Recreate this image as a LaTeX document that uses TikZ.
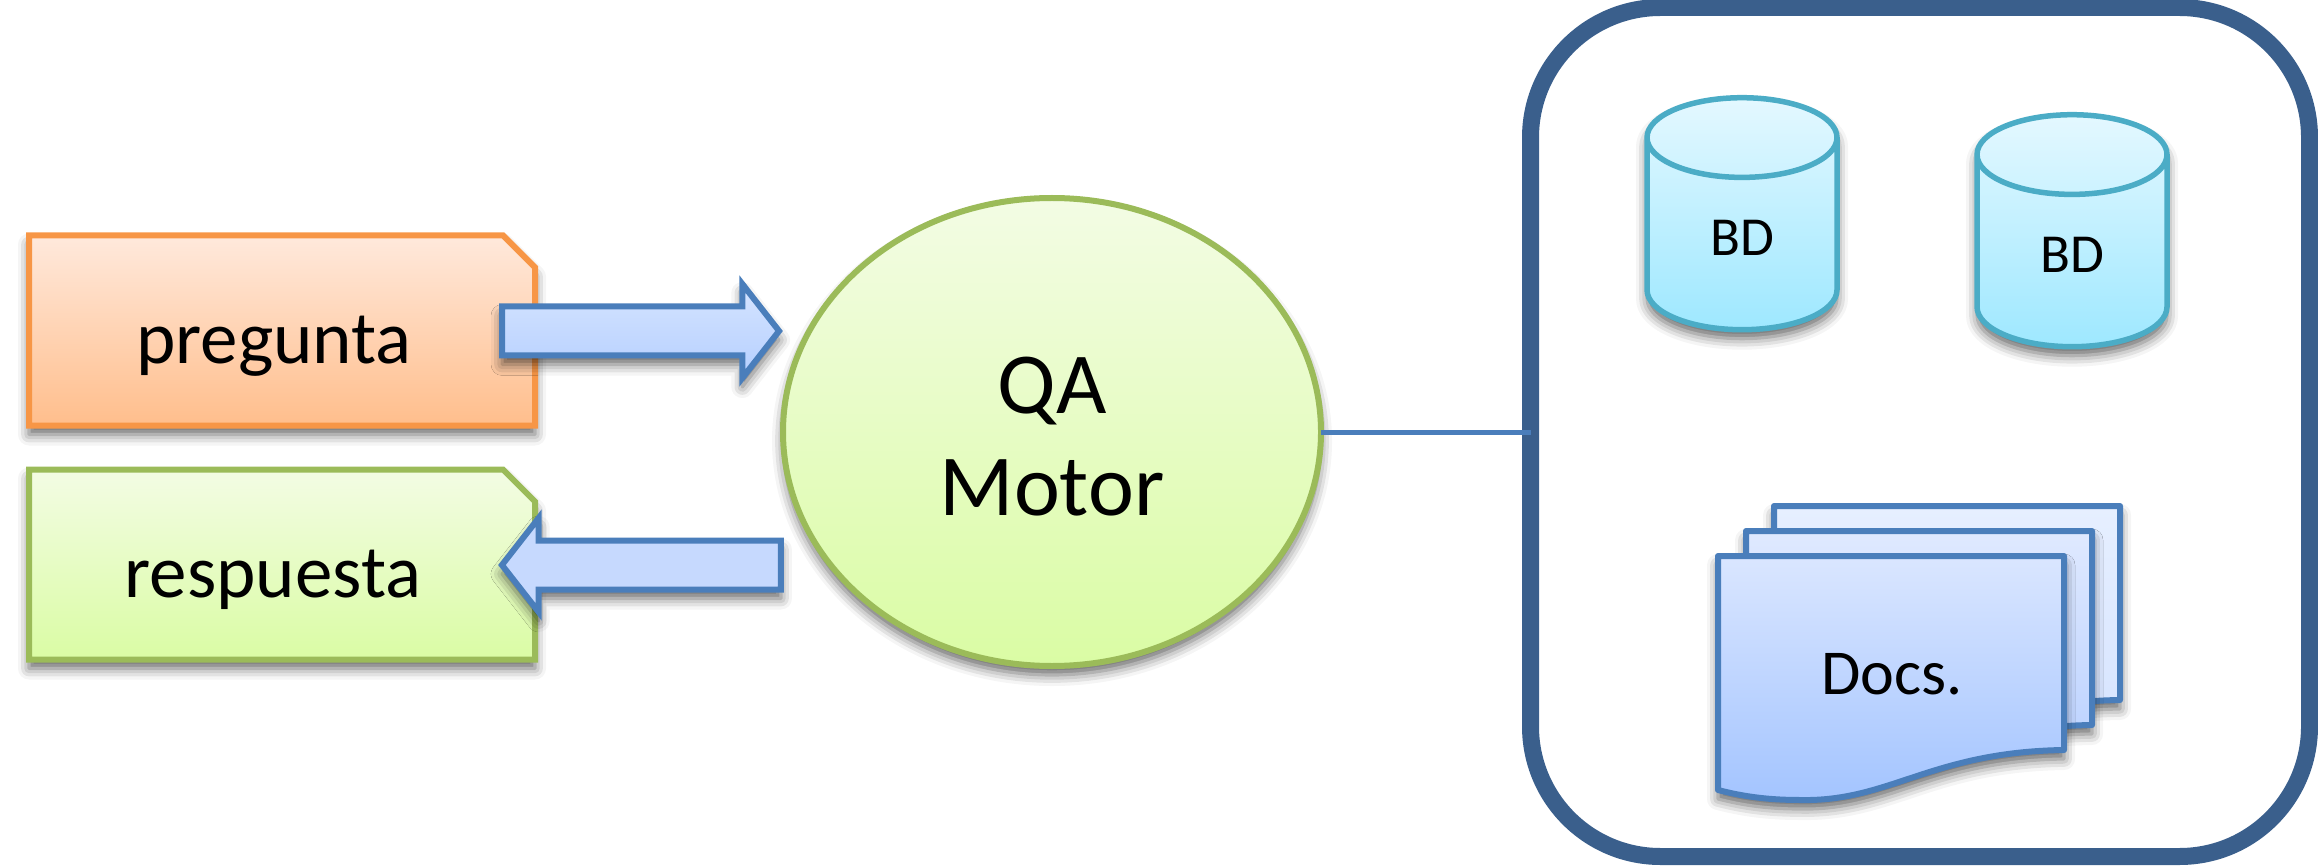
\documentclass[tikz,border=0pt]{standalone}
\usepackage{fontspec}
\setmainfont{Carlito}
\usetikzlibrary{shapes.geometric,shapes.arrows,shapes.misc,shadows.blur}

\definecolor{naranja}{HTML}{F79646}
\definecolor{verde}{HTML}{9BBB59}
\definecolor{azul}{HTML}{4A7EBB}
\definecolor{turquesa}{HTML}{4BACC6}
\definecolor{marino}{HTML}{3A5F8C}
\definecolor{naranja1}{HTML}{FFE9DC}
\definecolor{naranja2}{HTML}{FFBE8C}
\definecolor{verde1}{HTML}{F3FCE4}
\definecolor{verde2}{HTML}{DAFCA4}
\definecolor{azul1}{HTML}{D5E4FF}
\definecolor{azul2}{HTML}{B5CFFF}
\definecolor{azul3}{HTML}{C6D9FE}
\definecolor{cian1}{HTML}{E4F8FF}
\definecolor{cian2}{HTML}{9EE8FF}
\definecolor{hoja1}{HTML}{E6EFFF}
\definecolor{hoja2}{HTML}{D5E3FF}
\definecolor{hoja3}{HTML}{DFE9FF}
\definecolor{hoja4}{HTML}{B8D0FF}
\definecolor{hoja5}{HTML}{DAE6FF}
\definecolor{hoja6}{HTML}{A3C4FF}

\tikzset{
    sombra/.style={blur shadow={shadow xshift=0pt, shadow yshift=-9pt, shadow blur radius=11pt, shadow opacity=60}},
    nota/.style={chamfered rectangle, chamfered rectangle corners=north east, chamfered rectangle xsep=15.5pt, chamfered rectangle ysep=16.5pt,
        minimum width=506pt, minimum height=190pt, line width=6pt, inner sep=0pt, outer sep=0pt, text height=70pt, text depth=4pt,
        font=\fontsize{75}{88}\selectfont, sombra},
    flecha/.style={single arrow, draw=azul, line width=6pt, minimum width=90pt, minimum height=277pt, inner xsep=0pt, inner ysep=21.5pt, outer sep=0pt,
        single arrow head extend=22.5pt, single arrow tip angle=104, sombra},
    bd/.style={cylinder, shape border rotate=90, shape aspect=1.25, draw=turquesa, line width=5.5pt, top color=cian1, bottom color=cian2,
        minimum width=190pt, minimum height=232pt, inner sep=0pt, outer sep=0pt, text height=41pt, text depth=0pt, font=\fontsize{55}{66}\selectfont, sombra},
    pagina/.style={draw=azul, line width=6pt, line join=round, sombra},
    enlace/.style={draw=azul, line width=5pt},
}

\begin{document}
\begin{tikzpicture}[x=1pt,y=-1pt]
    \useasboundingbox (0,0) rectangle (2318,866);

    % Entrada y salida
    \node[nota, draw=naranja, top color=naranja1, bottom color=naranja2] (pregunta) at (282,330.5) {pregunta\kern16pt};
    \node[nota, draw=verde, top color=verde1, bottom color=verde2] (respuesta) at (282,564.5) {respuesta\kern18pt};

    % El motor
    \node[ellipse, draw=verde, line width=6pt, top color=verde1, bottom color=verde2, minimum width=538pt, minimum height=468pt,
        inner sep=0pt, outer sep=0pt, align=center, font=\fontsize{87}{102}\selectfont, sombra] (motor) at (1052,432) {\rule{0pt}{66pt}QA\\Motor};

    \node[flecha, top color=azul1, bottom color=azul2] (ida) at (631,331) {};
    \node[flecha, minimum height=279pt, shape border rotate=180, top color=azul3, bottom color=azul3] (vuelta) at (651,565) {};

    % Las fuentes
    \node[draw=marino, line width=17pt, rounded corners=130pt, minimum width=779pt, minimum height=849pt, inner sep=0pt, outer sep=0pt] (fuentes) at (1920,432) {};
    \draw[enlace] (motor.east) -- (fuentes.west);

    \node[bd] (bd1) at (1742,235) {BD};
    \node[bd] (bd2) at (2072,252) {BD};

    % Tres paginas, de atras hacia delante
    \foreach \dx/\dy/\arriba/\abajo in {56/-50/hoja1/hoja2, 28/-25/hoja3/hoja4, 0/0/hoja5/hoja6} {
        \draw[pagina, shift={(\dx,\dy)}, top color=\arriba, bottom color=\abajo]
            (1718,556) -- (2064,556) -- (2064,750) .. controls (1930,752) and (1890,802) .. (1800,800)
            .. controls (1770,800) and (1745,797) .. (1718,790) -- cycle;
    }
    \node[anchor=base, font=\fontsize{64}{76}\selectfont] (docs) at (1892,694) {Docs.};
\end{tikzpicture}
\end{document}
